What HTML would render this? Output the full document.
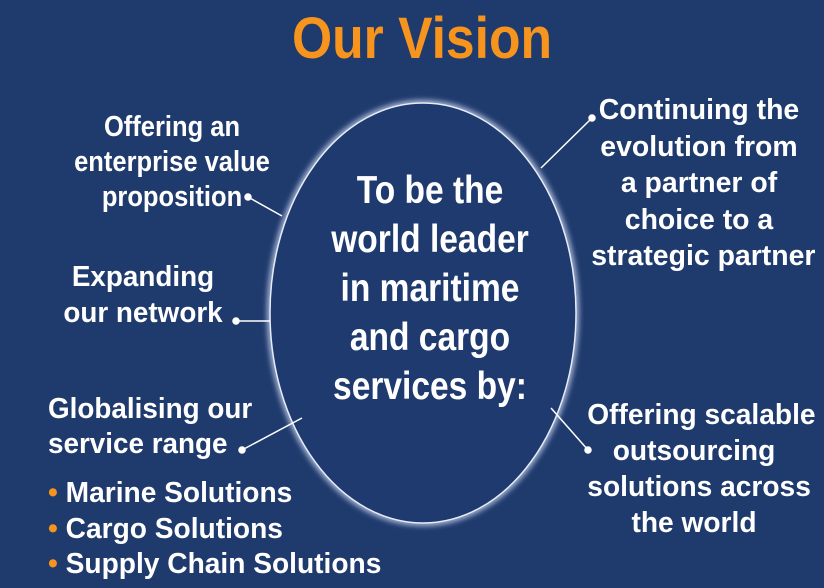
<!DOCTYPE html>
<html><head><style>
body{margin:0;width:824px;height:588px;background:#1f3a6d;overflow:hidden;position:relative;font-family:"Liberation Sans",sans-serif;font-weight:bold;color:#fff}
.t{position:absolute;white-space:nowrap;font-size:29px;line-height:35.5px}
.c{text-align:center;transform-origin:50% 0}
.l{transform-origin:0 0}
</style></head><body>
<svg width="824" height="588" style="position:absolute;left:0;top:0">
<defs><filter id="g"><feGaussianBlur stdDeviation="3"/></filter></defs>
<ellipse cx="423" cy="313" rx="153" ry="210" fill="none" stroke="#c8d4ee" stroke-width="5" filter="url(#g)"/>
<ellipse cx="423" cy="313" rx="153" ry="210" fill="#1e3a6e" stroke="#e6ecf7" stroke-width="1.5"/>
<g stroke="#fff" stroke-width="1.5" fill="#fff">
<line x1="248" y1="197" x2="282" y2="216"/><circle cx="248" cy="197" r="3"/>
<line x1="236" y1="321" x2="270" y2="321"/><circle cx="236" cy="321" r="3"/>
<line x1="242" y1="450" x2="302" y2="418"/><circle cx="242" cy="450" r="3"/>
<line x1="592" y1="118" x2="541" y2="168"/><circle cx="592" cy="118" r="3"/>
<line x1="588" y1="450" x2="551" y2="408"/><circle cx="588" cy="450" r="3"/>
</g></svg>
<div class="t c" style="left:0;width:844px;top:6px;font-size:58px;line-height:66px;color:#f7941d;transform:scaleX(0.89)">Our Vision</div>
<div class="t c" style="left:280px;width:300px;top:166px;font-size:39px;line-height:49px;transform:scaleX(0.86)">To be the<br>world leader<br>in maritime<br>and cargo<br>services by:</div>
<div class="t c" style="left:57px;width:230px;top:110px;line-height:35px;transform:scaleX(0.88)">Offering an<br>enterprise value<br>proposition</div>
<div class="t c" style="left:43px;width:200px;top:259px;line-height:36px;transform:scaleX(0.96)">Expanding<br>our network</div>
<div class="t l" style="left:48px;top:392px;line-height:35px;transform:scaleX(0.96)">Globalising our<br>service range</div>
<div class="t l" style="left:48px;top:476px;line-height:35.5px;transform:scaleX(0.97)"><span style="color:#f7941d">•</span> Marine Solutions<br><span style="color:#f7941d">•</span> Cargo Solutions<br><span style="color:#f7941d">•</span> Supply Chain Solutions</div>
<div class="t c" style="left:589px;width:220px;top:92px;line-height:36.5px;transform:scaleX(0.98)">Continuing the<br>evolution from<br>a partner of<br>choice to a<br>strategic partner</div>
<div class="t c" style="left:584px;width:220px;top:397px;line-height:36px;transform:scaleX(0.97)">Offering scalable<br>outsourcing<br>solutions across<br>the world</div>
</body></html>
